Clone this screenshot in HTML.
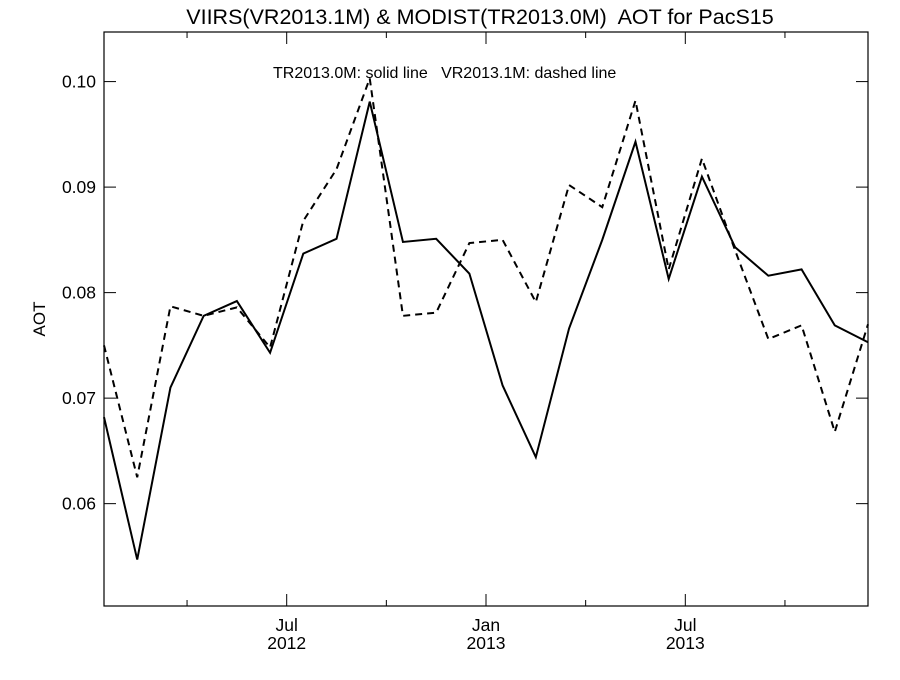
<!DOCTYPE html>
<html><head><meta charset="utf-8"><style>
body{margin:0;background:#fff;}
svg text{font-family:"Liberation Sans",Helvetica,sans-serif;fill:#000;white-space:pre;}
</style></head><body>
<svg id="chart" width="900" height="675" viewBox="0 0 900 675" xmlns="http://www.w3.org/2000/svg" xml:space="preserve">
<rect width="900" height="675" fill="#fff"/>
<text x="480" y="24" font-size="21.5" text-anchor="middle">VIIRS(VR2013.1M) &amp; MODIST(TR2013.0M)  AOT for PacS15</text>
<text x="273" y="78" font-size="16">TR2013.0M: solid line   VR2013.1M: dashed line</text>
<text x="45" y="319" font-size="17" text-anchor="middle" transform="rotate(-90 45 319)">AOT</text>
<rect x="104" y="32" width="764" height="574" fill="none" stroke="#000" stroke-width="1.2"/>
<g id="axes"></g>
<g id="series"></g>
</svg>
<script>
const months=["Jan12","Feb12","Mar12","Apr12","May12","Jun12","Jul12","Aug12","Sep12","Oct12","Nov12","Dec12","Jan13","Feb13","Mar13","Apr13","May13","Jun13","Jul13","Aug13","Sep13","Oct13","Nov13","Dec13"];
const solidTR=[0.0682,0.0547,0.0710,0.0778,0.0792,0.0743,0.0837,0.0851,0.0981,0.0848,0.0851,0.0818,0.0712,0.0644,0.0766,0.0850,0.0943,0.0813,0.0910,0.0843,0.0816,0.0822,0.0769,0.0753];
const dashedVR=[0.0750,0.0625,0.0787,0.0778,0.0786,0.0748,0.0868,0.0917,0.1003,0.0778,0.0781,0.0847,0.0850,0.0791,0.0902,0.0881,0.0982,0.0822,0.0927,0.0840,0.0756,0.0769,0.0668,0.0770];
const yTicks=[0.06,0.07,0.08,0.09,0.10];
const yTickLabels=["0.06","0.07","0.08","0.09","0.10"];
const xTickPos=[5.5,11.5,17.5];
const xTickLabels=[["Jul","2012"],["Jan","2013"],["Jul","2013"]];
const xMinorPos=[2.5,8.5,14.5,20.5];
const X0=104,X1=868,Y0=606,Y1=32;
const xS=i=>X0+i*(X1-X0)/23;
const yMin=0.0503,yMax=0.1047;
const yS=v=>Y0-(v-yMin)/(yMax-yMin)*(Y0-Y1);
const NS="http://www.w3.org/2000/svg";
const ax=document.getElementById('axes'),sr=document.getElementById('series');
function mk(t,p,parent){const e=document.createElementNS(NS,t);for(const k in p)e.setAttribute(k,p[k]);parent.appendChild(e);return e;}
yTicks.forEach((v,k)=>{const y=yS(v);
 let l=mk('line',{x1:X0,x2:X0+12,y1:y,y2:y,stroke:'#000'},ax);
 
 
 let r=mk('line',{x1:X1-12,x2:X1,y1:y,y2:y,stroke:'#000'},ax);
 
 
 let t=mk('text',{x:X0-8,y:y+6,'font-size':17.5,'text-anchor':'end'},ax);t.textContent=yTickLabels[k];
 
 
});
xTickPos.forEach((p,k)=>{const x=xS(p);
 let l=mk('line',{x1:x,x2:x,y1:Y0,y2:Y0-12,stroke:'#000'},ax);
 
 
 let l2=mk('line',{x1:x,x2:x,y1:Y1,y2:Y1+12,stroke:'#000'},ax);
 
 
 xTickLabels[k].forEach((s,j)=>{let t=mk('text',{x:x,y:Y0+25+j*18,'font-size':17.5,'text-anchor':'middle'},ax);t.textContent=s;
  
  });
});
xMinorPos.forEach(p=>{const x=xS(p);
 let l=mk('line',{x1:x,x2:x,y1:Y0,y2:Y0-6,stroke:'#000'},ax);
 
 
 let l2=mk('line',{x1:x,x2:x,y1:Y1,y2:Y1+6,stroke:'#000'},ax);
 
 
});
function line(vals,dash,name){
 const pts=vals.map((v,i)=>xS(i)+','+yS(v)).join(' ');
 const p=mk('polyline',{points:pts,fill:'none',stroke:'#000','stroke-width':2},sr);
 if(dash)p.setAttribute('stroke-dasharray','7,5');
 
 
}
line(solidTR,false,'tr2013-solid-line');
line(dashedVR,true,'vr2013-dashed-line');
</script>
</body></html>
